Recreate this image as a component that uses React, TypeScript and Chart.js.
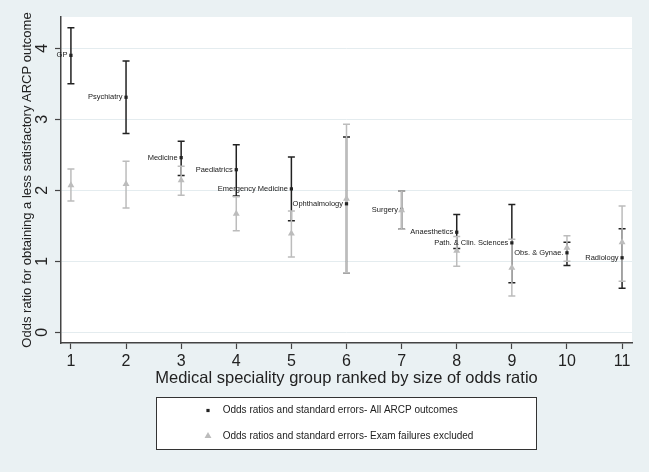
import React, { useEffect, useRef } from "react";
import { Chart, registerables } from "chart.js";

Chart.register(...registerables);

// ---- data ----
const ranks = [1, 2, 3, 4, 5, 6, 7, 8, 9, 10, 11];
const specialities = [
  "GP",
  "Psychiatry",
  "Medicine",
  "Paediatrics",
  "Emergency Medicine",
  "Ophthalmology",
  "Surgery",
  "Anaesthetics",
  "Path. & Clin. Sciences",
  "Obs. & Gynae.",
  "Radiology",
];
// All ARCP outcomes
const orAll = [3.9, 3.31, 2.46, 2.29, 2.02, 1.81, 1.73, 1.41, 1.26, 1.12, 1.05];
const loAll = [3.5, 2.8, 2.21, 1.92, 1.57, 0.84, 1.45, 1.18, 0.7, 0.94, 0.62];
const hiAll = [4.29, 3.82, 2.69, 2.64, 2.47, 2.75, 1.99, 1.66, 1.8, 1.27, 1.46];
// Exam failures excluded
const orExcl = [2.07, 2.09, 2.14, 1.67, 1.39, 1.88, 1.72, 1.15, 0.91, 1.19, 1.27];
const loExcl = [1.85, 1.75, 1.93, 1.43, 1.06, 0.84, 1.45, 0.93, 0.51, 1.0, 0.72];
const hiExcl = [2.3, 2.41, 2.34, 1.91, 1.71, 2.93, 1.99, 1.35, 1.31, 1.36, 1.78];

const xTicks = [1, 2, 3, 4, 5, 6, 7, 8, 9, 10, 11];
const yTicks = [0, 1, 2, 3, 4];
const xTitle = "Medical speciality group ranked by size of odds ratio";
const yTitle = "Odds ratio for obtaining a less satisfactory ARCP outcome";
const legendLabels = [
  "Odds ratios and standard errors- All ARCP outcomes",
  "Odds ratios and standard errors- Exam failures excluded",
];

const FONT = '"Liberation Sans", Arial, sans-serif';
const BG = "#eaf1f3";
const DARK = "#222222";
const GREY = "#bcbcbc";
const AXIS = "#444";

export default function App() {
  const ref = useRef<HTMLCanvasElement>(null);

  useEffect(() => {
    const canvas = ref.current;
    if (!canvas) return;

    const bars = [
      { lo: loAll, hi: hiAll, color: DARK },
      { lo: loExcl, hi: hiExcl, color: GREY },
    ];

    const decor = {
      id: "decor",
      beforeDraw(chart: any) {
        const { ctx, chartArea } = chart;
        ctx.save();
        ctx.fillStyle = BG;
        ctx.fillRect(0, 0, chart.width, chart.height);
        ctx.fillStyle = "#ffffff";
        ctx.fillRect(
          chartArea.left,
          chartArea.top,
          chartArea.right - chartArea.left,
          chartArea.bottom - chartArea.top
        );
        ctx.restore();
      },
      beforeDatasetsDraw(chart: any) {
        const { ctx } = chart;
        const xs = chart.scales.x;
        const ys = chart.scales.y;
        ctx.save();
        ctx.lineWidth = 1.5;
        bars.forEach((b) => {
          ctx.strokeStyle = b.color;
          ranks.forEach((r, i) => {
            const x = xs.getPixelForValue(r);
            const y1 = ys.getPixelForValue(b.lo[i]);
            const y2 = ys.getPixelForValue(b.hi[i]);
            ctx.beginPath();
            ctx.moveTo(x, y1);
            ctx.lineTo(x, y2);
            ctx.moveTo(x - 3.5, y1);
            ctx.lineTo(x + 3.5, y1);
            ctx.moveTo(x - 3.5, y2);
            ctx.lineTo(x + 3.5, y2);
            ctx.stroke();
          });
        });
        ctx.restore();
      },
      afterDatasetsDraw(chart: any) {
        const { ctx } = chart;
        const xs = chart.scales.x;
        const ys = chart.scales.y;
        ctx.save();
        ctx.fillStyle = "#1a1a1a";
        ctx.font = `7.5px ${FONT}`;
        ctx.textAlign = "right";
        ctx.textBaseline = "middle";
        specialities.forEach((s, i) => {
          const x = xs.getPixelForValue(ranks[i]);
          const y = ys.getPixelForValue(orAll[i]);
          ctx.fillText(s, x - 3.5, y);
        });
        ctx.restore();
      },
      afterDraw(chart: any) {
        const { ctx, chartArea } = chart;
        const ys = chart.scales.y;
        ctx.save();
        // y tick labels (rotated)
        ctx.fillStyle = "#222";
        ctx.font = `16px ${FONT}`;
        ctx.textAlign = "center";
        ctx.textBaseline = "middle";
        yTicks.forEach((v) => {
          const y = ys.getPixelForValue(v);
          ctx.save();
          ctx.translate(43, y);
          ctx.rotate(-Math.PI / 2);
          ctx.fillText(String(v), 0, 0);
          ctx.restore();
        });
        // y title
        ctx.font = `13px ${FONT}`;
        ctx.save();
        ctx.translate(27.5, (chartArea.top + chartArea.bottom) / 2);
        ctx.rotate(-Math.PI / 2);
        ctx.fillText(yTitle, 0, 0);
        ctx.restore();

        // legend box
        const lx = 156.5,
          ly = 397.5,
          lw = 380,
          lh = 52;
        ctx.fillStyle = "#ffffff";
        ctx.fillRect(lx, ly, lw, lh);
        ctx.strokeStyle = "#333";
        ctx.lineWidth = 1;
        ctx.strokeRect(lx, ly, lw, lh);
        const rows = [410.5, 436];
        // marker 1: small black square
        ctx.fillStyle = DARK;
        ctx.fillRect(208 - 1.6, rows[0] - 1.6, 3.2, 3.2);
        // marker 2: grey triangle
        ctx.fillStyle = GREY;
        const r = 4;
        ctx.beginPath();
        ctx.moveTo(208, rows[1] - r);
        ctx.lineTo(208 + r * 0.866, rows[1] + r * 0.5);
        ctx.lineTo(208 - r * 0.866, rows[1] + r * 0.5);
        ctx.closePath();
        ctx.fill();
        ctx.fillStyle = "#222";
        ctx.font = `10px ${FONT}`;
        ctx.textAlign = "left";
        ctx.textBaseline = "middle";
        legendLabels.forEach((t, i) => ctx.fillText(t, 222.7, rows[i]));
        ctx.restore();
      },
    };

    const chart = new Chart(canvas, {
      type: "scatter",
      data: {
        datasets: [
          {
            label: legendLabels[0],
            data: ranks.map((x, i) => ({ x, y: orAll[i] })),
            pointStyle: "rect",
            pointRadius: 2.3,
            pointHoverRadius: 2.3,
            backgroundColor: DARK,
            borderColor: DARK,
            borderWidth: 0,
            order: 1,
          },
          {
            label: legendLabels[1],
            data: ranks.map((x, i) => ({ x, y: orExcl[i] })),
            pointStyle: "triangle",
            pointRadius: 4,
            pointHoverRadius: 4,
            backgroundColor: GREY,
            borderColor: GREY,
            borderWidth: 0,
            order: 0,
          },
        ],
      },
      options: {
        responsive: false,
        animation: false,
        events: [],
        layout: { padding: { top: 17, right: 17, bottom: 85, left: 0 } },
        plugins: {
          legend: { display: false },
          tooltip: { enabled: false },
        },
        scales: {
          x: {
            type: "linear",
            min: 0.82,
            max: 11.18,
            afterBuildTicks: (s: any) => {
              s.ticks = xTicks.map((v) => ({ value: v }));
            },
            afterFit: (s: any) => {
              s.height = 44;
            },
            grid: {
              drawOnChartArea: false,
              tickLength: 6,
              tickColor: AXIS,
              tickWidth: 1.2,
            },
            border: { color: AXIS, width: 1.5 },
            ticks: {
              font: { size: 16, family: FONT },
              color: "#222",
              padding: 3,
              autoSkip: false,
              maxRotation: 0,
              minRotation: 0,
            },
            title: {
              display: true,
              text: xTitle,
              font: { size: 16.5, family: FONT, lineHeight: 1 },
              color: "#222",
              padding: 0,
            },
          },
          y: {
            type: "linear",
            min: -0.15,
            max: 4.44,
            afterBuildTicks: (s: any) => {
              s.ticks = yTicks.map((v) => ({ value: v }));
            },
            afterFit: (s: any) => {
              s.width = 61;
            },
            grid: {
              color: "#e4ecef",
              lineWidth: 1,
              tickLength: 6,
              tickColor: AXIS,
              tickWidth: 1.2,
            },
            border: { color: AXIS, width: 1.5 },
            ticks: { display: false },
          },
        },
      },
      plugins: [decor],
    });

    return () => chart.destroy();
  }, []);

  return (
    <div
      style={{
        position: "fixed",
        left: 0,
        top: 0,
        width: 649,
        height: 472,
        background: BG,
      }}
    >
      <canvas ref={ref} width={649} height={472} style={{ display: "block" }} />
    </div>
  );
}
